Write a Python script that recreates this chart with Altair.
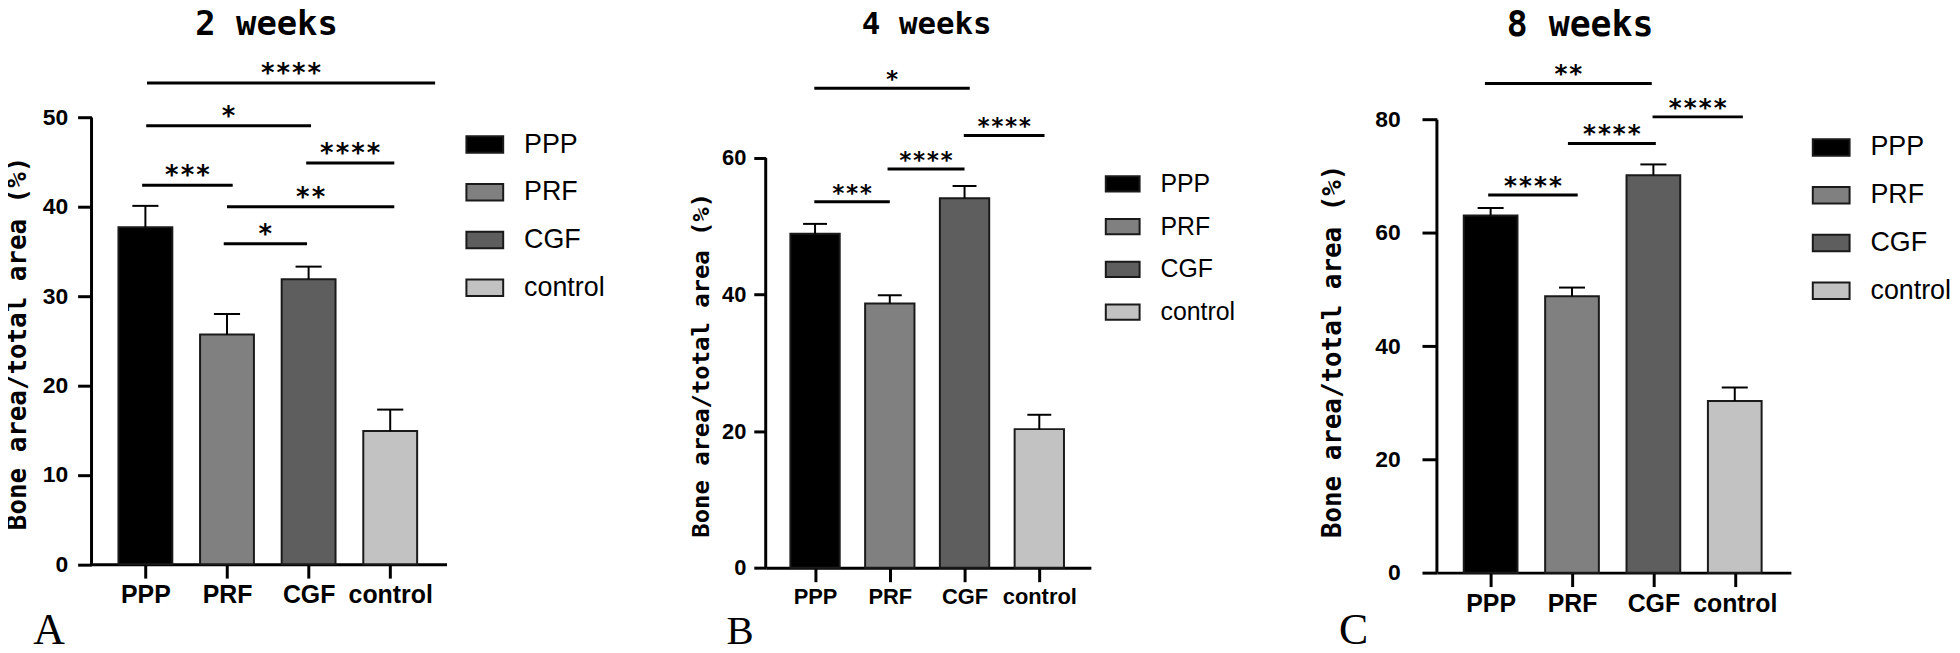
import altair as alt
import pandas as pd

# ---------------- data ----------------
groups = ["PPP", "PRF", "CGF", "control"]
colors = ["#000000", "#808080", "#5e5e5e", "#c2c2c2"]
titles = ["2 weeks", "4 weeks", "8 weeks"]
panel_letters = ["A", "B", "C"]
y_title = "Bone area/total area (%)"

mean_2w = [37.7, 25.7, 31.9, 14.9]
err_2w = [2.4, 2.3, 1.4, 2.4]
mean_4w = [48.9, 38.7, 54.1, 20.3]
err_4w = [1.45, 1.2, 1.8, 2.1]
mean_8w = [63.1, 48.8, 70.2, 30.3]
err_8w = [1.3, 1.55, 1.9, 2.4]

# significance brackets (from group position, to group position, height, label)
sig_2w_from = [0.02, 0.01, -0.04, 1.97, 1.00, 0.96]
sig_2w_to = [3.55, 2.03, 1.07, 3.05, 3.05, 1.98]
sig_2w_y = [53.85, 49.07, 42.4, 44.9, 40.0, 35.86]
sig_2w_lab = ["****", "*", "***", "****", "**", "*"]

sig_4w_from = [-0.01, 1.99, 0.97, -0.01]
sig_4w_to = [2.07, 3.07, 2.00, 1.00]
sig_4w_y = [70.2, 63.3, 58.4, 53.6]
sig_4w_lab = ["*", "****", "****", "***"]

sig_8w_from = [-0.07, 1.99, 0.95, -0.03]
sig_8w_to = [1.98, 3.10, 2.03, 1.07]
sig_8w_y = [86.4, 80.5, 75.8, 66.7]
sig_8w_lab = ["**", "****", "****", "****"]

y_max = [50, 60, 80]
y_step = [10, 20, 20]

# ---------------- layout (per panel) ----------------
PLOT_TOP = 42.5          # page y of the (shared) top of every plot frame
layout = [
    dict(w=357, zero=566.0, ymaxpx=116.7, ytick=14, ylab=23, ypad=10, xlab=25, ytx=-74, yty=301,
         ytfs=26, lx=-59, ly=80, lfs=44, tfs=34, tx=1.485, sfs=26,
         legx=376, legy=82, legfs=27, legsym=37, legrow=15),
    dict(w=327, zero=569.6, ymaxpx=157.5, ytick=12, ylab=22, ypad=8, xlab=22, ytx=-65, yty=323,
         ytfs=24, lx=-40, ly=76, lfs=41, tfs=31, tx=1.494, sfs=23,
         legx=341, legy=123, legfs=25, legsym=34, legrow=12),
    dict(w=356, zero=574.5, ymaxpx=119.0, ytick=15, ylab=23, ypad=22, xlab=25, ytx=-105, yty=309,
         ytfs=26, lx=-99, ly=71.5, lfs=44, tfs=35, tx=1.10, sfs=25,
         legx=377, legy=85, legfs=27, legsym=37, legrow=15),
]
TITLE_Y = -19

X_DOMAIN = [-0.66, 3.69]
BAR_HALF = 0.33
CAP_HALF = 0.16
label_expr = "[" + ",".join("'%s'" % g for g in groups) + "][datum.value]"


def panel(k, means, errs, s_from, s_to, s_y, s_lab):
    L = layout[k]
    h = L["zero"] - PLOT_TOP
    dom_top = y_max[k] * h / (L["zero"] - L["ymaxpx"])

    bars = pd.DataFrame({
        "group": groups,
        "pos": list(range(len(groups))),
        "mean": means,
        "err": errs,
    })
    bars["lo"] = bars["pos"] - BAR_HALF
    bars["hi"] = bars["pos"] + BAR_HALF
    bars["base"] = 0.0
    bars["top"] = bars["mean"] + bars["err"]
    bars["clo"] = bars["pos"] - CAP_HALF
    bars["chi"] = bars["pos"] + CAP_HALF

    sig = pd.DataFrame({"x1": s_from, "x2": s_to, "y": s_y, "lab": s_lab})
    sig["xm"] = (sig["x1"] + sig["x2"]) / 2

    ttl = pd.DataFrame({"t": [titles[k]], "x": [L["tx"]]})
    yaxis_line = pd.DataFrame({"x": [X_DOMAIN[0]], "y0": [0], "y1": [y_max[k]]})

    xs = alt.Scale(domain=X_DOMAIN, nice=False, zero=False)
    ys = alt.Scale(domain=[0, dom_top], nice=False, zero=True)

    x_axis = alt.Axis(
        values=[0, 1, 2, 3], labelExpr=label_expr, grid=False,
        tickSize=14, tickWidth=3, tickColor="black", domainWidth=3, domainColor="black",
        labelFont="Liberation Sans", labelFontWeight="bold", labelFontSize=L["xlab"],
        labelColor="black", labelPadding=5, labelOverlap=False, labelFlush=False,
        title=panel_letters[k], titleFont="Liberation Serif", titleFontSize=L["lfs"],
        titleFontWeight="normal", titleColor="black", titleX=L["lx"], titleY=L["ly"],
        titleAlign="left", titleBaseline="alphabetic", titleAnchor="start",
    )
    y_axis = alt.Axis(
        values=list(range(0, y_max[k] + 1, y_step[k])), grid=False, domain=False,
        tickSize=L["ytick"], tickWidth=3, tickColor="black",
        labelFont="Liberation Sans", labelFontWeight="bold", labelFontSize=L["ylab"],
        labelColor="black", labelPadding=L["ypad"], labelFlush=False,
        title=y_title, titleFont="DejaVu Sans Mono", titleFontSize=L["ytfs"],
        titleFontWeight="bold", titleColor="black", titleAngle=270,
        titleX=L["ytx"], titleY=L["yty"], titleAlign="center", titleBaseline="middle",
        titleLimit=1000,
    )

    sym = "M-1,-0.45H1V0.45H-1Z"
    legend = alt.Legend(
        orient="none", legendX=L["legx"], legendY=L["legy"], title=None,
        symbolType=sym, symbolSize=L["legsym"] ** 2, symbolStrokeColor="#1a1a1a",
        symbolStrokeWidth=2, labelFont="Liberation Sans", labelFontSize=L["legfs"],
        labelColor="black", labelOffset=20, rowPadding=L["legrow"], padding=0,
        labelLimit=400,
    )

    base = alt.Chart(bars)
    bar = base.mark_bar(stroke="#1a1a1a", strokeWidth=2).encode(
        x=alt.X("lo:Q", scale=xs, axis=x_axis),
        x2="hi:Q",
        y=alt.Y("mean:Q", scale=ys, axis=y_axis),
        y2="base:Q",
        color=alt.Color("group:N", scale=alt.Scale(domain=groups, range=colors), legend=legend),
    )
    stem = base.mark_rule(color="black", strokeWidth=2).encode(
        x="pos:Q", y="mean:Q", y2="top:Q")
    cap = base.mark_rule(color="black", strokeWidth=2).encode(
        x="clo:Q", x2="chi:Q", y="top:Q")

    yline = alt.Chart(yaxis_line).mark_rule(color="black", strokeWidth=3).encode(
        x="x:Q", y="y0:Q", y2="y1:Q")

    sb = alt.Chart(sig)
    line = sb.mark_rule(color="black", strokeWidth=3).encode(
        x="x1:Q", x2="x2:Q", y="y:Q")
    star = sb.mark_text(font="DejaVu Sans Mono", fontWeight="bold", fontSize=L["sfs"],
                        baseline="alphabetic", dy=-1, color="black").encode(
        x="xm:Q", y="y:Q", text="lab:N")

    title = alt.Chart(ttl).mark_text(font="DejaVu Sans Mono", fontWeight="bold",
                                     fontSize=L["tfs"], baseline="middle", color="black").encode(
        x="x:Q", y=alt.value(TITLE_Y), text="t:N")

    return alt.layer(bar, stem, cap, yline, line, star, title).properties(
        width=L["w"], height=h)


pA = panel(0, mean_2w, err_2w, sig_2w_from, sig_2w_to, sig_2w_y, sig_2w_lab)
pB = panel(1, mean_4w, err_4w, sig_4w_from, sig_4w_to, sig_4w_y, sig_4w_lab)
pC = panel(2, mean_8w, err_8w, sig_8w_from, sig_8w_to, sig_8w_y, sig_8w_lab)

chart = alt.hconcat(pA, pB, pC, spacing=84).resolve_scale(
    color="independent").resolve_legend(color="independent").properties(
    padding={"left": -3, "top": -2, "right": 0, "bottom": 0}
).configure_view(stroke=None)

chart.save("out.html", embed_options={"renderer": "svg", "actions": False})
